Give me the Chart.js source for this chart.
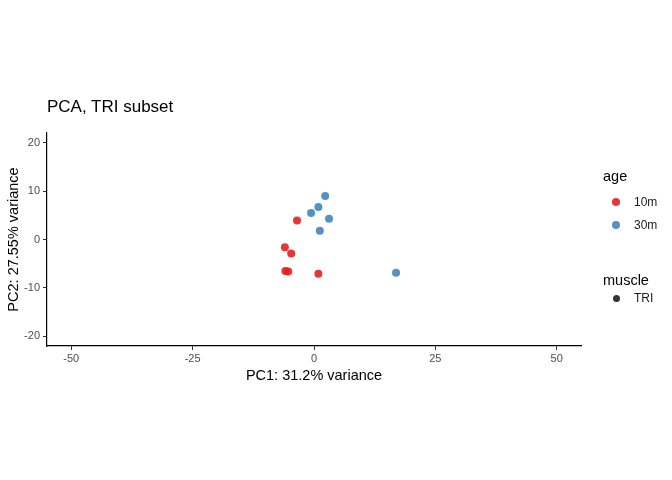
<!DOCTYPE html>
<html>
<head>
<meta charset="utf-8">
<script src="https://cdn.jsdelivr.net/npm/chart.js@4"></script>
<style>
  body { margin: 0; background: #fff; font-family: "Liberation Sans", Arial, sans-serif; }
  #wrap { position: relative; width: 672px; height: 480px; }
  #title { position: absolute; left: 47px; top: 97px; font-size: 17px; color: #000; }
  .leg { position: absolute; font-size: 12px; color: #1a1a1a; }
  .legTitle { position: absolute; font-size: 14.5px; color: #000; }
  .dot { position: absolute; width: 8px; height: 8px; border-radius: 50%; }
</style>
</head>
<body>
<div id="wrap">
  <canvas id="pca" width="672" height="480"></canvas>
  <div id="title">PCA, TRI subset</div>
  <div class="legTitle" style="left:603px; top:168px;">age</div>
  <div class="dot" style="left:612px; top:198px; background:rgba(228,26,28,0.88);"></div>
  <div class="leg" style="left:634px; top:195px;">10m</div>
  <div class="dot" style="left:612px; top:221px; background:rgba(55,126,184,0.85);"></div>
  <div class="leg" style="left:634px; top:218px;">30m</div>
  <div class="legTitle" style="left:603px; top:272px;">muscle</div>
  <div class="dot" style="left:613px; top:295px; width:7px; height:7px; background:#333;"></div>
  <div class="leg" style="left:634px; top:291px;">TRI</div>
</div>
<script>
// PCA coordinates
const pc1_10m = [-3.5, -6.0, -4.7, -5.9, -5.3, 0.9];
const pc2_10m = [3.9, -1.6, -2.9, -6.5, -6.6, -7.1];
const pc1_30m = [2.3, 0.9, -0.6, 3.1, 1.2, 16.9];
const pc2_30m = [9.0, 6.7, 5.5, 4.3, 1.8, -6.85];

const xTicks = [-50, -25, 0, 25, 50];
const yTicks = [-20, -10, 0, 10, 20];

const toPoints = (xs, ys) => xs.map((x, i) => ({ x: x, y: ys[i] }));

const tickFont = { family: 'Liberation Sans', size: 11 };
const titleFont = { family: 'Liberation Sans', size: 14.5 };

new Chart(document.getElementById('pca').getContext('2d'), {
  type: 'scatter',
  data: {
    datasets: [
      {
        label: '10m',
        data: toPoints(pc1_10m, pc2_10m),
        backgroundColor: 'rgba(228,26,28,0.88)',
        borderWidth: 0,
        pointRadius: 4
      },
      {
        label: '30m',
        data: toPoints(pc1_30m, pc2_30m),
        backgroundColor: 'rgba(55,126,184,0.85)',
        borderWidth: 0,
        pointRadius: 4
      }
    ]
  },
  options: {
    responsive: false,
    animation: false,
    layout: { padding: { left: 0, top: 133, right: 91, bottom: 95 } },
    plugins: { legend: { display: false }, tooltip: { enabled: false } },
    scales: {
      x: {
        min: -55,
        max: 55,
        afterBuildTicks: s => { s.ticks = xTicks.map(v => ({ value: v })); },
        afterFit: s => { s.height = 39; },
        grid: { drawOnChartArea: false, drawTicks: true, tickLength: 4, color: '#333' },
        border: { color: '#000', width: 1.2 },
        ticks: { color: '#4d4d4d', font: tickFont, padding: 2, maxRotation: 0 },
        title: { display: true, text: 'PC1: 31.2% variance', color: '#000', font: titleFont, padding: 0 }
      },
      y: {
        min: -22,
        max: 22,
        afterBuildTicks: s => { s.ticks = yTicks.map(v => ({ value: v })); },
        afterFit: s => { s.width = 47; },
        grid: { drawOnChartArea: false, drawTicks: true, tickLength: 4, color: '#333' },
        border: { color: '#000', width: 1.2 },
        ticks: { color: '#4d4d4d', font: tickFont, padding: 3 },
        title: { display: true, text: 'PC2: 27.55% variance', color: '#000', font: titleFont, padding: { top: 5, bottom: 0 } }
      }
    }
  }
});
</script>
</body>
</html>
